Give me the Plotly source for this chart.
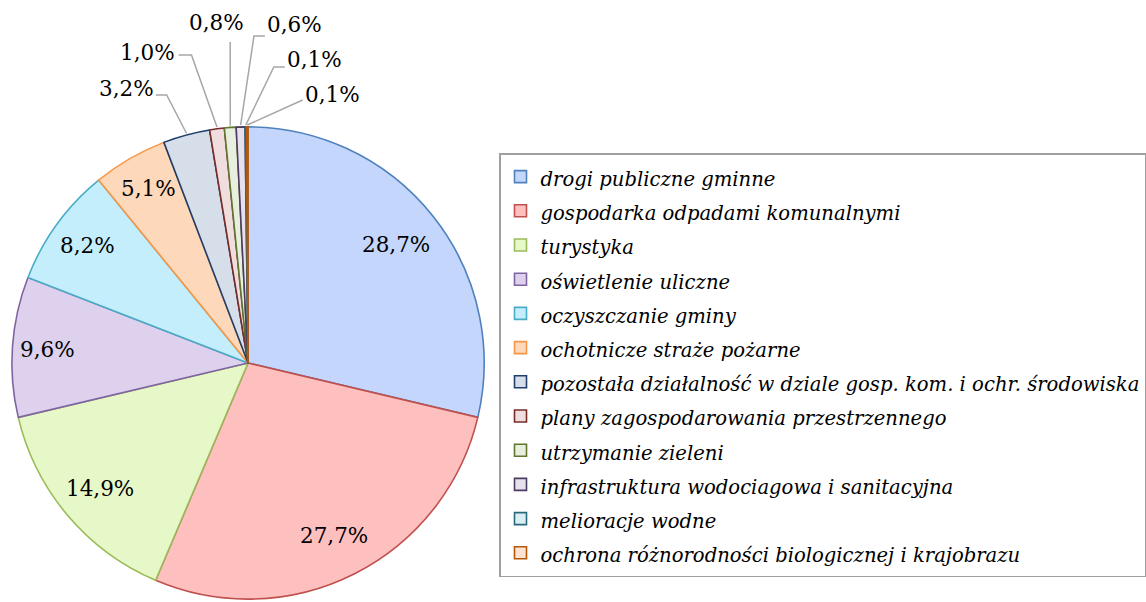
import math
import plotly.graph_objects as go

categories = [
    "drogi publiczne gminne",
    "gospodarka odpadami komunalnymi",
    "turystyka",
    "oświetlenie uliczne",
    "oczyszczanie gminy",
    "ochotnicze straże pożarne",
    "pozostała działalność w dziale gosp. kom. i ochr. środowiska",
    "plany zagospodarowania przestrzennego",
    "utrzymanie zieleni",
    "infrastruktura wodociagowa i sanitacyjna",
    "melioracje wodne",
    "ochrona różnorodności biologicznej i krajobrazu",
]
values = [28.7, 27.7, 14.9, 9.6, 8.2, 5.1, 3.2, 1.0, 0.8, 0.6, 0.1, 0.1]

fill_colors = ["#c4d6fc", "#fec0bf", "#e7f8c8", "#ddd1ee", "#c4eefc", "#fdd8ba",
               "#d6dee9", "#f0dede", "#e8efdf", "#e6e1ed", "#dbeef3", "#fde4d2"]
line_colors = ["#4f81bd", "#c0504d", "#9bbb59", "#8064a2", "#4bacc6", "#f79646",
               "#1f3f6a", "#772c2a", "#5f7530", "#4d3b62", "#276a7c", "#b65708"]

W, H = 1146, 602
CX, CY, R = 250, 363, 238
FONT = "DejaVu Serif"


def px(x):
    return x / W


def py(y):
    return 1 - y / H


def fmt(v):
    return f"{v:.1f}".replace(".", ",") + "%"


fig = go.Figure(go.Pie(
    labels=[f'<span style="font-size:19.6px">{c}</span>' for c in categories],
    values=values,
    sort=False,
    direction="clockwise",
    rotation=0,
    textinfo="none",
    hovertext=categories,
    hoverinfo="text+percent",
    marker=dict(colors=fill_colors, line=dict(color=line_colors, width=1.6)),
    domain=dict(x=[px(CX - R), px(CX + R)], y=[py(CY + R), py(CY - R)]),
))

total = sum(values)
cum = 0
mids = []
for v in values:
    mids.append((cum + v / 2) / total * 2 * math.pi)
    cum += v

annotations = []
shapes = []
label_font = dict(family=FONT, size=21.5, color="#000")

# inside labels
inside_r = [0.80, 0.81, 0.82, 0.85, 0.84, 0.845]
for i, rf in enumerate(inside_r):
    a = mids[i]
    x = CX + rf * R * math.sin(a)
    y = CY - rf * R * math.cos(a)
    annotations.append(dict(x=px(x), y=py(y), xref="paper", yref="paper",
                            xanchor="center", yanchor="middle",
                            text=fmt(values[i]), showarrow=False, font=label_font))

# outside labels with leader lines
out_text = [(127, 88), (149, 53), (218, 22), (297, 25), (317, 59), (335, 95)]
out_knee = [(168, 95), (193, 55), (232, 42), (256, 36), (276, 67), (305, 100)]
out_end = [(157, 95), (180, 55), (232, 42), (267, 36), (287, 67), (305, 100)]
for j, i in enumerate(range(6, 12)):
    a = mids[i]
    ex = CX + R * math.sin(a)
    ey = CY - R * math.cos(a)
    tx, ty = out_text[j]
    kx, ky = out_knee[j]
    nx, ny = out_end[j]
    annotations.append(dict(x=px(tx), y=py(ty), xref="paper", yref="paper",
                            xanchor="center", yanchor="middle",
                            text=fmt(values[i]), showarrow=False, font=label_font))
    path = f"M{px(ex)},{py(ey)} L{px(kx)},{py(ky)} L{px(nx)},{py(ny)}"
    shapes.append(dict(type="path", xref="paper", yref="paper", path=path,
                       line=dict(color="#a6a6a6", width=1.5)))

fig.update_layout(
    width=W, height=H,
    margin=dict(l=0, r=0, t=0, b=0),
    paper_bgcolor="white",
    plot_bgcolor="white",
    annotations=annotations,
    shapes=shapes,
    showlegend=True,
    legend=dict(
        x=px(503), y=py(153), xanchor="left", yanchor="top",
        font=dict(family=FONT, size=24, color="#000", style="italic"),
        bgcolor="white", bordercolor="#a0a0a0", borderwidth=1.5,
        traceorder="normal",
    ),
)

fig.write_html(
    "out.html",
    config={"displayModeBar": False},
    post_script="document.body.style.margin='0';document.body.style.overflow='hidden';",
)
